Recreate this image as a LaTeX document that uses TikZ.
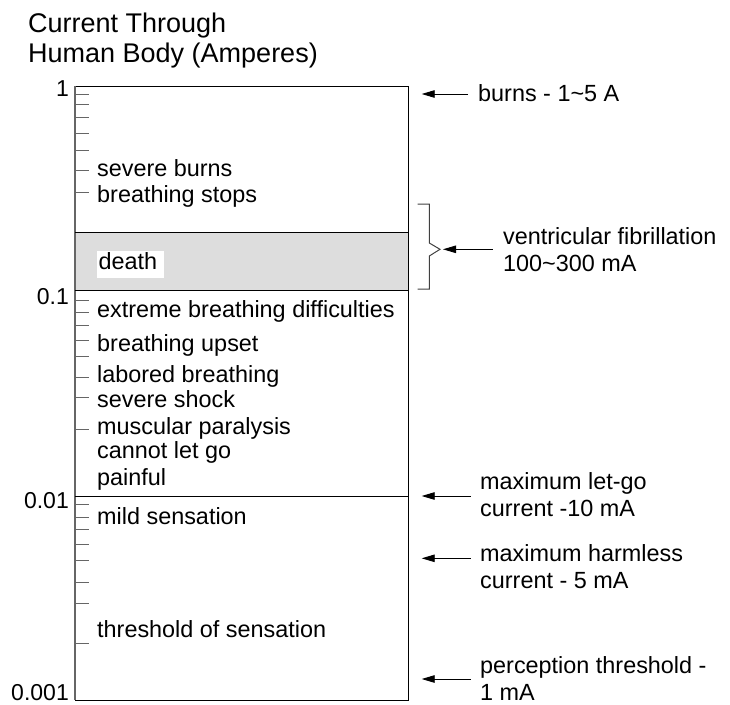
\documentclass[tikz,border=0pt]{standalone}
\usepackage{fontspec}
\setmainfont{Liberation Sans}
\usetikzlibrary{arrows.meta}
\begin{document}
\begin{tikzpicture}[x=1pt,y=-1pt,
  frame/.style={draw=black, line width=0.9pt},
  axisline/.style={draw=black!60, line width=1.1pt},
  tickmark/.style={draw=black!60, line width=1pt},
  txt/.style={inner sep=0pt, anchor=base west, font=\fontsize{23.4}{27}\selectfont},
  note/.style={txt, align=left},
  heading/.style={inner sep=0pt, anchor=base west, align=left, font=\fontsize{27}{30}\selectfont},
  scalelbl/.style={inner sep=0pt, anchor=east, font=\fontsize{23}{26}\selectfont},
  deathlbl/.style={inner xsep=1.6pt, inner ysep=0pt, anchor=west, fill=white,
    text width=63.4pt, minimum height=26.7pt, text height=16pt, text depth=5pt,
    align=left, font=\fontsize{23.4}{27}\selectfont},
  pointer/.style={-{Triangle[length=13pt,width=7.5pt]}, line width=0.9pt},
  bracket/.style={draw=black!75, line width=1pt},
]
\useasboundingbox (0,0) rectangle (730,704);

% heading (base anchor sits on the last line)
\node[heading] (title) at (28,62) {Current Through\\Human Body (Amperes)};

% shaded band between 0.2 and 0.1 A
\fill[gray!27] (75,232) rectangle (408,290);

% frame of the scale
\draw[frame] (75,86) -- (408,86) -- (408,700) -- (75,700);
\draw[axisline] (75,86) -- (75,700);
\draw[frame] (75,232) -- (408,232);
\draw[frame] (75,290) -- (408,290);
\draw[frame] (75,496) -- (408,496);

% logarithmic tick marks
\foreach \y in {94,104.3,117.7,133.3,150,170.7,192.3,
                300,312.3,325.7,340,356,377.3,397.3,429,
                504,517.7,529,544.3,560.3,582,603.3,643.3}
  \draw[tickmark] (75,\y) -- ++(14,0);

% scale values
\node[scalelbl] (s1)    at (69,89)    {1};
\node[scalelbl] (s01)   at (69,296.7) {0.1};
\node[scalelbl] (s001)  at (69,500.7) {0.01};
\node[scalelbl] (s0001) at (69,692.5) {0.001};

% effects inside the scale
\node[txt] (sburns)   at (97,176) {severe burns};
\node[txt] (bstops)   at (97,202) {breathing stops};
\node[deathlbl] (death) at (96.7,264.3) {death};
\node[txt] (extreme)  at (97,317) {extreme breathing difficulties};
\node[txt] (bupset)   at (97,351) {breathing upset};
\node[txt] (labored)  at (97,382) {labored breathing};
\node[txt] (sshock)   at (97,407) {severe shock};
\node[txt] (muscular) at (97,434) {muscular paralysis};
\node[txt] (letgo)    at (97,458) {cannot let go};
\node[txt] (painful)  at (97,485) {painful};
\node[txt] (mild)     at (97,524) {mild sensation};
\node[txt] (thresh)   at (97,637) {threshold of sensation};

% annotations on the right
\node[txt]  (burns) at (478,101) {burns - 1\textasciitilde 5 A};
\coordinate (burnsTail) at (468,94);
\coordinate (burnsTip)  at (421.7,94);
\draw[pointer] (burnsTail) -- (burnsTip);

\coordinate (brA) at (417.7,204);
\coordinate (brB) at (429.3,204);
\coordinate (brC) at (429.3,243);
\coordinate (brD) at (440,249.3);
\coordinate (brE) at (429.3,256);
\coordinate (brF) at (429.3,289);
\coordinate (brG) at (417.7,289);
\draw[bracket] (brA) -- (brB) -- (brC) -- (brD) -- (brE) -- (brF) -- (brG);

\node[note] (vf) at (503,271.7) {ventricular fibrillation\\100\textasciitilde 300 mA};
\coordinate (vfTail) at (492.7,249.3);
\coordinate (vfTip)  at (443,249.3);
\draw[pointer] (vfTail) -- (vfTip);

\node[note] (maxletgo) at (480,516.7) {maximum let-go\\current -10 mA};
\coordinate (mlTail) at (470.7,496);
\coordinate (mlTip)  at (421.7,496);
\draw[pointer] (mlTail) -- (mlTip);

\node[note] (harmless) at (480,588.7) {maximum harmless\\current - 5 mA};
\coordinate (mhTail) at (470.7,558.3);
\coordinate (mhTip)  at (421.7,558.3);
\draw[pointer] (mhTail) -- (mhTip);

\node[note] (percept) at (480,700.5) {perception threshold -\\1 mA};
\coordinate (ptTail) at (470.7,679);
\coordinate (ptTip)  at (421.7,679);
\draw[pointer] (ptTail) -- (ptTip);
\end{tikzpicture}
\end{document}
